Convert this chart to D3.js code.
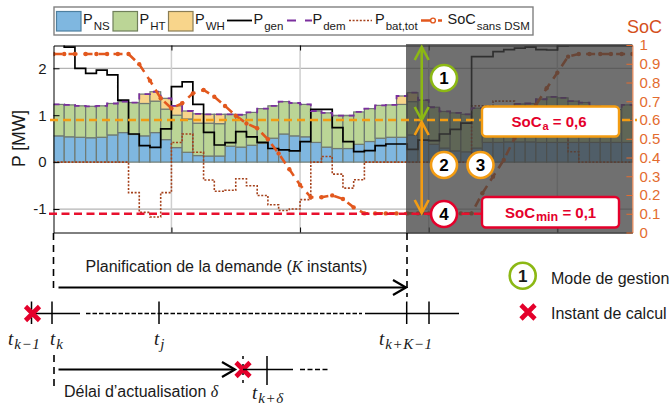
<!DOCTYPE html>
<html>
<head>
<meta charset="utf-8">
<script src="https://cdn.jsdelivr.net/npm/d3@7"></script>
<style>
  html, body { margin: 0; padding: 0; background: #fff; }
  svg { display: block; }
  text { font-family: "Liberation Sans", Arial, sans-serif; fill: #1a1a1a; }
</style>
</head>
<body>
<div id="main"></div>
<script>
// values, one per time step
let pNS = [.56,.54,.53,.52,.53,.58,.63,.59,.56,.63,.48,.31,.21,.14,.13,.13,.34,.32,.36,.40,.51,.60,.56,.54,.42,.32,.29,.29,.38,.44,.51,.53,.53,.58,.47,.38,.30,.24,.22,.30,.42,.42,.43,.43,.43,.42,.42,.42,.42,.42,.42,.42,.42,.42];
let pHT = [.67,.68,.67,.67,.67,.67,.66,.68,.69,.67,.65,.69,.71,.69,.70,.69,.68,.69,.70,.74,.69,.69,.70,.69,.67,.73,.70,.70,.69,.70,.70,.69,.70,.71,.85,.79,.78,.81,.80,.85,.69,.70,.74,.81,.82,.92,.97,.95,.88,.85,.77,.73,.70,.80];
let pWH = [0,0,0,0,0,0,0,0,.20,.20,.23,.20,.17,.20,.19,.20,0,0,0,0,0,0,0,0,0,0,0,0,0,0,0,0,.18,.19,0,0,0,0,0,0,0,0,0,0,0,0,0,0,0,0,0,0,0,0];
let pDem = [1.23,1.22,1.20,1.19,1.20,1.25,1.29,1.27,1.45,1.50,1.36,1.20,1.09,1.03,1.02,1.02,1.02,1.01,1.06,1.14,1.20,1.29,1.26,1.23,1.09,1.05,.99,.99,1.07,1.14,1.21,1.22,1.41,1.48,1.32,1.17,1.08,1.05,1.02,1.15,1.11,1.12,1.17,1.24,1.25,1.34,1.39,1.37,1.30,1.27,1.19,1.15,1.12,1.22];
let pGen = [2.6,2.45,2.0,1.89,1.96,1.86,1.32,.60,.35,.315,.71,1.61,1.71,1.23,.635,.365,.415,.65,.54,.42,.29,.26,.24,.436,1.125,1.125,.734,.436,.222,.245,.35,.386,.386,.27,.47,.46,.60,.70,.83,2.25,2.25,2.355,2.40,2.43,2.45,2.40,2.39,2.48,2.49,2.49,2.49,2.49,2.49,2.49];
let pBat = [0,0,0,0,0,0,0,-.65,-1.07,-1.17,-.65,.42,.60,.21,-.38,-.62,-.60,-.355,-.505,-.71,-.91,-1.03,-1.0,-.80,0,.12,-.256,-.554,-.377,0,0,0,0,0,0,0,0,0,0,1.2,1.2,1.3,1.3,1.1,1.0,.9,.8,.6,.22,0,0,0,0,0];
let soc = [.952,.952,.952,.952,.952,.952,.952,.952,.897,.81,.716,.662,.689,.742,.76,.724,.675,.623,.582,.556,.497,.422,.337,.253,.188,.188,.198,.179,.134,.102,.102,.102,.102,.102,.102,.102,.102,.102,.102,.102,.209,.298,.387,.502,.59,.68,.769,.852,.938,.952,.952,.952,.952,.952,.952];

let pTicks = [-1, 0, 1, 2];
let socTicks = [0, .1, .2, .3, .4, .5, .6, .7, .8, .9, 1];
let stepTicks = [11, 23, 35, 47];
let socA = 0.6;
let socMin = 0.1;

let left = 53.5, right = 632.4, top_ = 45.5, bottom = 232.5;
let steps = pNS.length;

let cBlue = "#7FB7E0", cGreen = "#BBD596", cYellow = "#F8D58B", cOrange = "#F39C12",
    cRed = "#E4002B", cLime = "#8CB814", cSoc = "#E2581E";

let svg = d3.select("#main").append("svg").attr("width", 671).attr("height", 407);

var xScale = d3.scaleLinear().domain([0, steps]).range([left, right]);
var yScale = d3.scaleLinear().domain([-1.5, 2.486]).range([bottom, top_]);
var socScale = d3.scaleLinear().domain([0, 1]).range([bottom, 45]);

svg.append("clipPath").attr("id", "plot").append("rect")
    .attr("x", left).attr("y", top_).attr("width", right - left).attr("height", bottom - top_);

// grid
svg.append("g").selectAll("line").data(pTicks.filter(d => d != 0)).enter().append("line")
    .attr("x1", left).attr("x2", right)
    .attr("y1", d => yScale(d)).attr("y2", d => yScale(d))
    .attr("stroke", "#b4b4b4").attr("stroke-width", 1.3);
svg.append("g").selectAll("line").data(stepTicks).enter().append("line")
    .attr("x1", d => xScale(d)).attr("x2", d => xScale(d))
    .attr("y1", top_).attr("y2", bottom)
    .attr("stroke", "#cfcfcf").attr("stroke-width", 1.5);

// stacked bars
let rows = pNS.map((d, i) => ({ i: i, ns: d, ht: pHT[i], wh: pWH[i] }));
let stacked = d3.stack().keys(["ns", "ht", "wh"])(rows);
let barColors = [cBlue, cGreen, cYellow];

let plot = svg.append("g").attr("clip-path", "url(#plot)");
plot.selectAll("g.layer").data(stacked).enter().append("g").attr("class", "layer")
    .attr("fill", (d, i) => barColors[i])
    .selectAll("rect").data(d => d).enter().append("rect")
    .attr("x", d => xScale(d.data.i))
    .attr("width", xScale(1) - xScale(0))
    .attr("y", d => yScale(d[1]))
    .attr("height", d => yScale(d[0]) - yScale(d[1]))
    .attr("stroke", "#6f7a72").attr("stroke-width", 1.2);

function stepped(values) {
    return values.flatMap((v, i) => [[i, v], [i + 1, v]]);
}
let line = d3.line().x(d => xScale(d[0])).y(d => yScale(d[1]));
let socLine = d3.line().x((d, i) => xScale(i)).y(d => socScale(d));

plot.append("path").attr("d", line(stepped(pBat))).attr("fill", "none")
    .attr("stroke", "#A5421C").attr("stroke-width", 1.6).attr("stroke-dasharray", "2,1.6");
plot.append("path").attr("d", line(stepped(pGen))).attr("fill", "none")
    .attr("stroke", "#000").attr("stroke-width", 1.7);
plot.append("path").attr("d", line(stepped(pDem))).attr("fill", "none")
    .attr("stroke", "#7B2F9E").attr("stroke-width", 1.8).attr("stroke-dasharray", "6,4.7");
plot.append("path").attr("d", socLine(soc)).attr("fill", "none")
    .attr("stroke", cSoc).attr("stroke-width", 2.6).attr("stroke-dasharray", "9,6");
plot.selectAll("circle").data(soc).enter().append("circle")
    .attr("cx", (d, i) => xScale(i)).attr("cy", d => socScale(d)).attr("r", 2.2)
    .attr("fill", cSoc);

// axes
svg.append("g").attr("transform", `translate(0,${top_})`)
    .call(d3.axisTop(xScale).tickValues(stepTicks).tickSizeInner(-5).tickSizeOuter(0).tickFormat(""));
svg.append("g").attr("transform", `translate(0,${bottom})`)
    .call(d3.axisBottom(xScale).tickValues(stepTicks).tickSizeInner(-5).tickSizeOuter(0).tickFormat(""));
let yLeft = svg.append("g").attr("transform", `translate(${left},0)`)
    .call(d3.axisLeft(yScale).tickValues(pTicks).tickSizeInner(-6).tickSizeOuter(0).tickPadding(7).tickFormat(d => d));
yLeft.selectAll("text").style("font-size", "15px");

// shaded zone, on top of the data
svg.append("rect").attr("x", 406).attr("y", 44).attr("width", right - 406).attr("height", bottom - 44 + 1)
    .attr("fill", "#404040").attr("opacity", .75);

let yRight = svg.append("g").attr("transform", `translate(${right},0)`)
    .call(d3.axisRight(socScale).tickValues(socTicks).tickSizeInner(-6).tickSizeOuter(0).tickPadding(7).tickFormat(d => d));
yRight.select(".domain").attr("stroke", "#E36C2F");
yRight.selectAll("line").attr("stroke", "#E36C2F");
yRight.selectAll("text").style("font-size", "15px").style("fill", "#E36C2F");

svg.append("text").attr("transform", "translate(25,167) rotate(-90)")
    .style("font-size", "17.5px").text("P [MW]");
svg.append("text").attr("x", 627).attr("y", 32.5).style("font-size", "18px").style("fill", "#D4501C").text("SoC");

// reference levels
svg.append("line").attr("x1", 50).attr("x2", 637)
    .attr("y1", socScale(socA)).attr("y2", socScale(socA))
    .attr("stroke", cOrange).attr("stroke-width", 2.5).attr("stroke-dasharray", "8,5");
svg.append("line").attr("x1", 49).attr("x2", 624)
    .attr("y1", socScale(socMin)).attr("y2", socScale(socMin))
    .attr("stroke", "#E8102E").attr("stroke-width", 2.4).attr("stroke-dasharray", "8,4.5");

// legend
svg.append("rect").attr("x", 54).attr("y", 7).attr("width", 479).attr("height", 28)
    .attr("fill", "#fff").attr("stroke", "#808080").attr("stroke-width", 1.4);

function subLabel(parent, x, y, main, sub, size, subSize, dy) {
    let t = parent.append("text").attr("x", x).attr("y", y).style("font-size", size + "px");
    t.append("tspan").text(main);
    t.append("tspan").attr("dy", dy).attr("dx", 1).style("font-size", subSize + "px").text(sub);
    return t;
}

[[56.5, cBlue, "#4d7f9f"], [113, cGreen, "#6f7f5a"], [168.5, cYellow, "#8a7d55"]].forEach(s => {
    svg.append("rect").attr("x", s[0]).attr("y", 11.5).attr("width", 24.5).attr("height", 19.5)
        .attr("fill", s[1]).attr("stroke", s[2]).attr("stroke-width", 1.2);
});
subLabel(svg, 83, 23.5, "P", "NS", 14.5, 11.5, 6.5);
subLabel(svg, 139.5, 23.5, "P", "HT", 14.5, 11.5, 6.5);
subLabel(svg, 195, 23.5, "P", "WH", 14.5, 11.5, 6.5);
svg.append("line").attr("x1", 227).attr("x2", 252).attr("y1", 20.5).attr("y2", 20.5)
    .attr("stroke", "#000").attr("stroke-width", 1.8);
subLabel(svg, 253.5, 23.5, "P", "gen", 14.5, 11.5, 6.5);
svg.append("line").attr("x1", 287).attr("x2", 312).attr("y1", 20.5).attr("y2", 20.5)
    .attr("stroke", "#7B2F9E").attr("stroke-width", 1.8).attr("stroke-dasharray", "9,9");
subLabel(svg, 312.5, 23.5, "P", "dem", 14.5, 11.5, 6.5);
svg.append("line").attr("x1", 349).attr("x2", 372).attr("y1", 20.5).attr("y2", 20.5)
    .attr("stroke", "#A5421C").attr("stroke-width", 1.6).attr("stroke-dasharray", "2,1.6");
subLabel(svg, 375, 23.5, "P", "bat,tot", 14.5, 11.5, 6.5);
svg.append("line").attr("x1", 421).attr("x2", 445).attr("y1", 20.5).attr("y2", 20.5)
    .attr("stroke", cSoc).attr("stroke-width", 2.4).attr("stroke-dasharray", "14,3,4");
svg.append("circle").attr("cx", 433).attr("cy", 20.5).attr("r", 2.4).attr("fill", "#fff")
    .attr("stroke", cSoc).attr("stroke-width", 1.4);
subLabel(svg, 447.5, 23.5, "SoC", "sans DSM", 14.5, 11.5, 6.5);

// annotations on the shaded zone
function doubleArrow(x, y1, y2, color) {
    let a = svg.append("g").attr("fill", "none").attr("stroke", color).attr("stroke-width", 2.6);
    a.append("line").attr("x1", x).attr("x2", x).attr("y1", y1).attr("y2", y2);
    a.append("path").attr("d", `M${x - 7},${y1 + 13}L${x},${y1}L${x + 7},${y1 + 13}`);
    a.append("path").attr("d", `M${x - 7},${y2 - 13}L${x},${y2}L${x + 7},${y2 - 13}`);
}
doubleArrow(421.7, 47, 120, cLime);
doubleArrow(421.7, 122, 213, cOrange);

function badge(x, y, label, color) {
    svg.append("circle").attr("cx", x).attr("cy", y).attr("r", 13)
        .attr("fill", "#fff").attr("stroke", color).attr("stroke-width", 2.6);
    svg.append("text").attr("x", x).attr("y", y + 6).attr("text-anchor", "middle")
        .style("font-size", "17px").style("font-weight", "bold").style("fill", "#000").text(label);
}
badge(444, 78, "1", cLime);
badge(444, 165, "2", cOrange);
badge(480.5, 165, "3", cOrange);
badge(444, 214, "4", cRed);

svg.append("rect").attr("x", 482).attr("y", 106.5).attr("width", 137).attr("height", 30).attr("rx", 4)
    .attr("fill", "#fff").attr("stroke", cOrange).attr("stroke-width", 2.4);
subLabel(svg, 511.5, 127, "SoC", "a", 15, 11, 3).style("font-weight", "bold").style("fill", cRed)
    .append("tspan").attr("dy", -3).text(" = 0,6");
svg.append("rect").attr("x", 482).attr("y", 197).attr("width", 137).attr("height", 30.5).attr("rx", 4)
    .attr("fill", "#fff").attr("stroke", cRed).attr("stroke-width", 2.4);
subLabel(svg, 505, 218, "SoC", "min", 15, 12.5, 3).style("font-weight", "bold").style("fill", cRed)
    .append("tspan").attr("dy", -3).text(" = 0,1");

// timeline under the chart
function seg(x1, y1, x2, y2, w, dash) {
    return svg.append("line").attr("x1", x1).attr("y1", y1).attr("x2", x2).attr("y2", y2)
        .attr("stroke", "#000").attr("stroke-width", w).attr("stroke-dasharray", dash || null);
}
function openArrow(x1, x2, y) {
    seg(x1, y, x2, y, 2.2);
    svg.append("path").attr("d", `M${x2 - 13},${y - 7.5}L${x2},${y}L${x2 - 13},${y + 7.5}`)
        .attr("fill", "none").attr("stroke", "#000").attr("stroke-width", 2.2);
}
function redCross(x, y, r) {
    svg.append("path").attr("d", `M${x - r},${y - r}L${x + r},${y + r}M${x - r},${y + r}L${x + r},${y - r}`)
        .attr("stroke", cRed).attr("stroke-width", 4.6).attr("fill", "none");
}
function mathLabel(x, y, sub) {
    let t = svg.append("text").attr("x", x).attr("y", y)
        .style("font-family", "'Liberation Serif', serif").style("font-style", "italic").style("font-size", "19px");
    t.append("tspan").text("t");
    t.append("tspan").attr("dy", 3.5).attr("dx", 1).style("font-size", "15px").style("letter-spacing", "0.6px").text(sub);
}

seg(53.5, 233, 53.5, 293, 1.6, "7,5");
seg(54, 355, 54, 386, 1.6, "7,5");
seg(407, 233, 407, 297, 1.6, "7,5");
let plan = svg.append("text").attr("x", 85.5).attr("y", 272).style("font-size", "16px");
plan.append("tspan").text("Planification de la demande (");
plan.append("tspan").style("font-family", "'Liberation Serif', serif").style("font-style", "italic").text("K");
plan.append("tspan").text(" instants)");
openArrow(58.5, 406, 287.5);

seg(31, 313.5, 80, 313.5, 1.5);
seg(86, 313.5, 362, 313.5, 1.5, "4.5,2");
seg(365, 313.5, 459, 313.5, 1.5);
[31.5, 52, 159, 406.7, 429].forEach(x => seg(x, 301.5, x, 324, 1.5));
redCross(32.5, 313.5, 7);
mathLabel(8, 345, "k−1");
mathLabel(50, 345, "k");
mathLabel(154, 345, "j");
mathLabel(379, 345, "k+K−1");

openArrow(58.5, 235, 369.5);
seg(243, 356, 243, 386, 1.5, "3,5");
redCross(243, 369.5, 7);
seg(243, 369.5, 293, 369.5, 1.5);
seg(300, 369.5, 330, 369.5, 1.5, "5,2.5");
seg(267, 356, 267, 385, 1.5);
let delay = svg.append("text").attr("x", 64).attr("y", 397).style("font-size", "16px");
delay.append("tspan").text("Délai d’actualisation ");
delay.append("tspan").style("font-family", "'Liberation Serif', serif").style("font-style", "italic").text("δ");
mathLabel(252, 399, "k+δ");

// small key on the right
svg.append("circle").attr("cx", 522.7).attr("cy", 275.7).attr("r", 13)
    .attr("fill", "#fff").attr("stroke", cLime).attr("stroke-width", 2.6);
svg.append("text").attr("x", 522.7).attr("y", 282).attr("text-anchor", "middle")
    .style("font-size", "17px").style("font-weight", "bold").text("1");
svg.append("text").attr("x", 551).attr("y", 283.5).style("font-size", "16px").text("Mode de gestion");
redCross(528, 312, 7);
svg.append("text").attr("x", 551).attr("y", 319).style("font-size", "16px").text("Instant de calcul");
</script>
</body>
</html>
